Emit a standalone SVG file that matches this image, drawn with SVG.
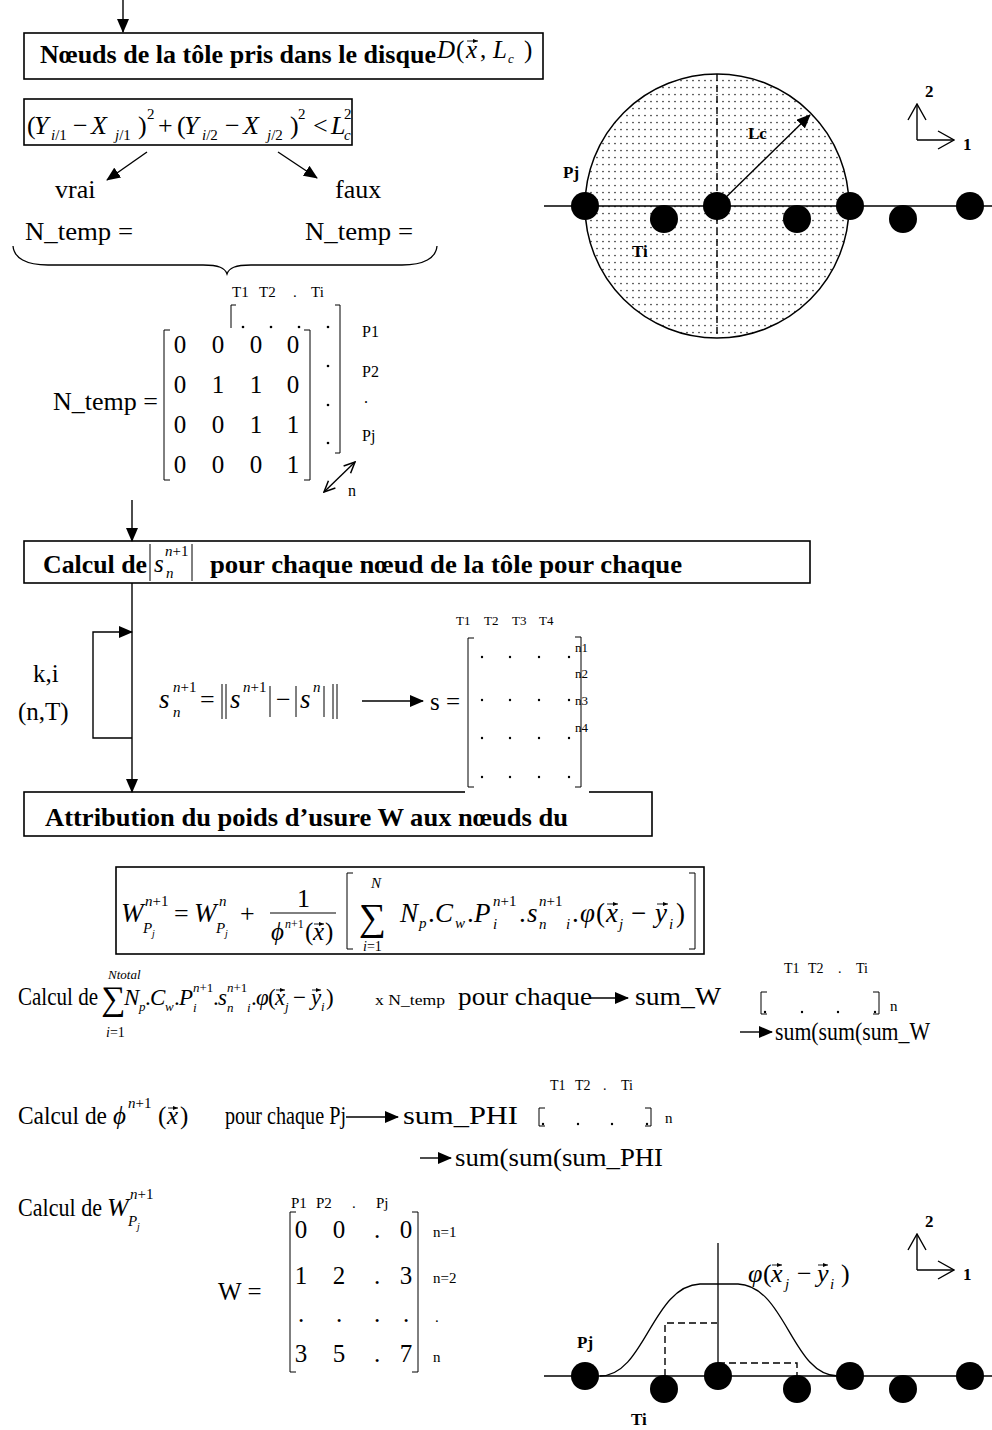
<svg xmlns="http://www.w3.org/2000/svg" width="992" height="1430" viewBox="0 0 992 1430" font-size="24">
<style>
text{font-family:"Liberation Serif","Times New Roman",serif;fill:#000}
.b{font-weight:bold}
.i{font-style:italic}
.s15{font-size:15px}
.s13{font-size:13px}
.s12{font-size:12px}
.ln{stroke:#000;stroke-width:1.3;fill:none}
.thin{stroke:#000;stroke-width:1;fill:none}
.dash{stroke:#000;stroke-width:1.4;fill:none;stroke-dasharray:7 4}
.box{fill:#fff;stroke:#000;stroke-width:1.6}
.arr{stroke:#000;stroke-width:1.4;fill:none;marker-end:url(#ah)}
.vec{stroke:#000;stroke-width:0.9;fill:none;marker-end:url(#vh)}
.ax{stroke:#000;stroke-width:1.4;fill:none;marker-end:url(#av)}
</style>
<defs>
<marker id="ah" viewBox="0 0 14 12" refX="13" refY="6" markerWidth="14" markerHeight="12" orient="auto" markerUnits="userSpaceOnUse"><path d="M0,0 L14,6 L0,12 z" fill="#000"/></marker>
<marker id="av" viewBox="0 0 18 20" refX="17" refY="10" markerWidth="18" markerHeight="20" orient="auto" markerUnits="userSpaceOnUse"><path d="M1,1 L17,10 L1,19" fill="none" stroke="#000" stroke-width="1.4"/></marker>
<marker id="av2" viewBox="0 0 13 12" refX="12" refY="6" markerWidth="13" markerHeight="12" orient="auto-start-reverse" markerUnits="userSpaceOnUse"><path d="M1,1 L12,6 L1,11" fill="none" stroke="#000" stroke-width="1.5"/></marker>
<marker id="vh" viewBox="0 0 5 4" refX="5" refY="2" markerWidth="5" markerHeight="4" orient="auto" markerUnits="userSpaceOnUse"><path d="M0,0 L5,2 L0,4 z" fill="#000"/></marker>
<pattern id="dots" width="6" height="7" patternUnits="userSpaceOnUse"><circle cx="3" cy="3.5" r="0.85" fill="#333"/></pattern>
<clipPath id="clip1"><rect x="24" y="33" width="519" height="36"/></clipPath>
<clipPath id="clip2"><rect x="24" y="541" width="786" height="38"/></clipPath>
<clipPath id="clip3"><rect x="24" y="792" width="628" height="41"/></clipPath>
</defs>
<rect width="992" height="1430" fill="#fff"/>

<!-- Node: box "Noeuds de la tole" -->
<g id="node-noeuds">
<rect class="box" x="24" y="33" width="519" height="46"/>
<text class="b" x="40" y="63" font-size="26" textLength="396" lengthAdjust="spacingAndGlyphs" clip-path="url(#clip1)">Nœuds de la tôle pris dans le disque</text>
<text class="i" x="437" y="58" font-size="25">D</text>
<text x="456" y="58" font-size="25">(</text>
<text class="i" x="466" y="58" font-size="25">x</text>
<path class="vec" d="M467,41 L478,41"/>
<text x="480" y="58" font-size="25">,</text>
<text class="i" x="493" y="58" font-size="25">L</text>
<text class="i s13" x="508" y="63">c</text>
<text x="524" y="58" font-size="25">)</text>
</g>

<!-- Node: inequality -->
<g id="node-condition">
<rect class="box" x="24" y="99" width="328" height="46"/>
<g font-size="26">
<text x="27" y="134">(</text>
<text class="i" x="34" y="134">Y</text>
<text class="s15" x="51" y="140"><tspan class="i">i</tspan>/1</text>
<text x="73" y="134">−</text>
<text class="i" x="91" y="134">X</text>
<text class="s15" x="115" y="140"><tspan class="i">j</tspan>/1</text>
<text x="138" y="134">)</text>
<text class="s15" x="147" y="119">2</text>
<text x="158" y="134">+</text>
<text x="177" y="134">(</text>
<text class="i" x="184" y="134">Y</text>
<text class="s15" x="202" y="140"><tspan class="i">i</tspan>/2</text>
<text x="225" y="134">−</text>
<text class="i" x="243" y="134">X</text>
<text class="s15" x="267" y="140"><tspan class="i">j</tspan>/2</text>
<text x="290" y="134">)</text>
<text class="s15" x="298" y="119">2</text>
<text x="313" y="134">&lt;</text>
<text class="i" x="331" y="134">L</text>
<text class="i s15" x="344" y="140">c</text>
<text class="s15" x="344" y="119">2</text>
</g>
</g>

<!-- Nodes: vrai / faux -->
<g id="node-vrai">
<text x="55" y="198" font-size="26">vrai</text>
<text x="25" y="240" font-size="26" textLength="108" lengthAdjust="spacingAndGlyphs">N_temp =</text>
</g>
<g id="node-faux">
<text x="335" y="198" font-size="26">faux</text>
<text x="305" y="240" font-size="26" textLength="108" lengthAdjust="spacingAndGlyphs">N_temp =</text>
</g>
<g id="node-brace">
<path class="ln" d="M13,246 C14,258 26,265 48,265 L203,265 C219,265 225,268 227,274 C229,268 235,265 251,265 L402,265 C424,265 436,258 437,246"/>
</g>

<!-- Node: N_temp matrix -->
<g id="node-ntemp-matrix">
<g font-size="15">
<text x="232" y="297">T1</text><text x="259" y="297">T2</text><text x="293" y="297">.</text><text x="311" y="297">Ti</text>
</g>
<path class="thin" d="M236,305 L231,305 L231,328"/>
<path class="thin" d="M335,305 L340,305 L340,453 L335,453"/>
<circle cx="243" cy="327" r="1.3"/><circle cx="271" cy="327" r="1.3"/><circle cx="299" cy="327" r="1.3"/>
<circle cx="328" cy="327" r="1.3"/><circle cx="328" cy="366" r="1.3"/><circle cx="328" cy="405" r="1.3"/><circle cx="328" cy="443" r="1.3"/>
<rect x="163" y="329" width="148" height="152" fill="#fff"/>
<path class="thin" d="M170,330 L164,330 L164,480 L170,480"/>
<path class="thin" d="M304,330 L310,330 L310,480 L304,480"/>
<g font-size="25" text-anchor="middle">
<text x="180" y="353">0</text><text x="218" y="353">0</text><text x="256" y="353">0</text><text x="293" y="353">0</text>
<text x="180" y="393">0</text><text x="218" y="393">1</text><text x="256" y="393">1</text><text x="293" y="393">0</text>
<text x="180" y="433">0</text><text x="218" y="433">0</text><text x="256" y="433">1</text><text x="293" y="433">1</text>
<text x="180" y="473">0</text><text x="218" y="473">0</text><text x="256" y="473">0</text><text x="293" y="473">1</text>
</g>
<text x="53" y="410" font-size="26" textLength="105" lengthAdjust="spacingAndGlyphs">N_temp =</text>
<g font-size="16">
<text x="362" y="337">P1</text>
<text x="362" y="377">P2</text>
<text x="364" y="403">.</text>
<text x="362" y="441">Pj</text>
<text x="348" y="496">n</text>
</g>
<path d="M324,492 L355,462" stroke="#000" stroke-width="1.4" fill="none" marker-start="url(#av2)" marker-end="url(#av2)"/>
</g>

<!-- Node: disc diagram -->
<g id="node-disc">
<circle cx="717" cy="206" r="132" fill="url(#dots)" stroke="#000" stroke-width="1.5"/>
<line class="dash" x1="717" y1="74" x2="717" y2="338"/>
<line class="ln" x1="544" y1="206" x2="992" y2="206"/>
<circle cx="585" cy="206" r="14"/><circle cx="717" cy="206" r="14"/><circle cx="850" cy="206" r="14"/><circle cx="970" cy="206" r="14"/>
<circle cx="664" cy="219" r="14"/><circle cx="797" cy="219" r="14"/><circle cx="903" cy="219" r="14"/>
<line class="arr" x1="717" y1="206" x2="810" y2="115" stroke-width="2"/>
<text class="b" x="748" y="139" font-size="17">Lc</text>
<text class="b" x="563" y="178" font-size="17">Pj</text>
<text class="b" x="632" y="257" font-size="17">Ti</text>
<line class="ax" x1="917" y1="140" x2="917" y2="104"/>
<line class="ax" x1="917" y1="140" x2="954" y2="140"/>
<text class="b" x="925" y="97" font-size="17">2</text>
<text class="b" x="963" y="150" font-size="17">1</text>
</g>

<!-- Node: Calcul de s box -->
<g id="node-calcul-s">
<rect class="box" x="24" y="541" width="786" height="42"/>
<g clip-path="url(#clip2)">
<text class="b" x="43" y="573" font-size="26" textLength="104" lengthAdjust="spacingAndGlyphs">Calcul de</text>
<text class="b" x="210" y="573" font-size="26" textLength="472" lengthAdjust="spacingAndGlyphs">pour chaque nœud de la tôle pour chaque</text>
</g>
<line class="thin" x1="150" y1="544" x2="150" y2="581"/>
<text class="i" x="154" y="572" font-size="25">s</text>
<text class="i s15" x="165" y="556">n<tspan font-style="normal">+1</tspan></text>
<text class="i s15" x="166" y="578">n</text>
<line class="thin" x1="192" y1="544" x2="192" y2="581"/>
</g>

<!-- Node: loop labels and s formula -->
<g id="node-loop-label">
<text x="33" y="682" font-size="25">k,i</text>
<text x="18" y="720" font-size="25">(n,T)</text>
</g>
<g id="node-s-formula">
<text class="i" x="159" y="708" font-size="27">s</text>
<text class="i s15" x="173" y="692">n<tspan font-style="normal">+1</tspan></text>
<text class="i s15" x="173" y="717">n</text>
<text x="200" y="708" font-size="26">=</text>
<line class="thin" x1="222" y1="684" x2="222" y2="719"/>
<line class="thin" x1="226" y1="684" x2="226" y2="719"/>
<text class="i" x="230" y="708" font-size="27">s</text>
<text class="i s15" x="243" y="692">n<tspan font-style="normal">+1</tspan></text>
<line class="thin" x1="270" y1="686" x2="270" y2="717"/>
<text x="276" y="708" font-size="26">−</text>
<line class="thin" x1="296" y1="686" x2="296" y2="717"/>
<text class="i" x="300" y="708" font-size="27">s</text>
<text class="i s15" x="313" y="692">n</text>
<line class="thin" x1="324" y1="686" x2="324" y2="717"/>
<line class="thin" x1="333" y1="684" x2="333" y2="719"/>
<line class="thin" x1="337" y1="684" x2="337" y2="719"/>
<text x="430" y="710" font-size="25">s =</text>
</g>

<!-- Node: Attribution box -->
<g id="node-attribution">
<rect class="box" x="24" y="792" width="628" height="44"/>
<text class="b" x="45" y="826" font-size="26" textLength="523" lengthAdjust="spacingAndGlyphs" clip-path="url(#clip3)">Attribution du poids d’usure W aux nœuds du</text>
</g>

<!-- Node: s matrix (drawn over the box border) -->
<g id="node-s-matrix">
<rect x="465" y="632" width="124" height="163" fill="#fff"/>
<g font-size="13">
<text x="456" y="625">T1</text><text x="484" y="625">T2</text><text x="512" y="625">T3</text><text x="539" y="625">T4</text>
</g>
<path class="thin" d="M474,638 L468,638 L468,787 L474,787"/>
<path class="thin" d="M575,637 L581,637 L581,787 L575,787"/>
<g>
<circle cx="482" cy="657" r="1.2"/><circle cx="510" cy="657" r="1.2"/><circle cx="539" cy="657" r="1.2"/><circle cx="569" cy="657" r="1.2"/>
<circle cx="482" cy="700" r="1.2"/><circle cx="510" cy="700" r="1.2"/><circle cx="539" cy="700" r="1.2"/><circle cx="569" cy="700" r="1.2"/>
<circle cx="482" cy="738" r="1.2"/><circle cx="510" cy="738" r="1.2"/><circle cx="539" cy="738" r="1.2"/><circle cx="569" cy="738" r="1.2"/>
<circle cx="482" cy="777" r="1.2"/><circle cx="510" cy="777" r="1.2"/><circle cx="539" cy="777" r="1.2"/><circle cx="569" cy="777" r="1.2"/>
</g>
<g font-size="13">
<text x="575" y="652">n1</text><text x="575" y="678">n2</text><text x="575" y="705">n3</text><text x="575" y="732">n4</text>
</g>
</g>

<!-- Node: W update formula -->
<g id="node-w-formula">
<rect class="box" x="116" y="867" width="588" height="87"/>
<text class="i" x="121" y="922" font-size="27">W</text>
<text class="i s15" x="145" y="906">n<tspan font-style="normal">+1</tspan></text>
<text class="i s15" x="143" y="933">P</text><text class="i" x="152" y="937" font-size="10">j</text>
<text x="174" y="922" font-size="26">=</text>
<text class="i" x="194" y="922" font-size="27">W</text>
<text class="i s15" x="219" y="906">n</text>
<text class="i s15" x="216" y="933">P</text><text class="i" x="225" y="937" font-size="10">j</text>
<text x="240" y="922" font-size="26">+</text>
<text x="297" y="907" font-size="26">1</text>
<line class="thin" x1="270" y1="913" x2="336" y2="913"/>
<text class="i" x="271" y="940" font-size="25">ϕ</text>
<text class="i s12" x="285" y="928">n<tspan font-style="normal">+1</tspan></text>
<text x="305" y="940" font-size="25">(</text>
<text class="i" x="313" y="940" font-size="25">x</text>
<path class="vec" d="M314,924 L324,924"/>
<text x="325" y="940" font-size="25">)</text>
<path class="thin" d="M353,873 L347,873 L347,949 L353,949"/>
<text x="359" y="930" font-size="38">∑</text>
<text class="i" x="371" y="888" font-size="15">N</text>
<text x="363" y="951" font-size="14"><tspan class="i">i</tspan>=1</text>
<g font-size="27">
<text class="i" x="400" y="922">N</text>
<text class="i s15" x="419" y="928">p</text>
<text x="428" y="922">.</text>
<text class="i" x="435" y="922">C</text>
<text class="i s15" x="455" y="928">w</text>
<text x="467" y="922">.</text>
<text class="i" x="474" y="922">P</text>
<text class="i s15" x="493" y="906">n<tspan font-style="normal">+1</tspan></text>
<text class="i s15" x="493" y="929">i</text>
<text x="519" y="922">.</text>
<text class="i" x="527" y="922">s</text>
<text class="i s15" x="539" y="906">n<tspan font-style="normal">+1</tspan></text>
<text class="i s15" x="539" y="929">n</text>
<text class="i s15" x="566" y="929">i</text>
<text x="572" y="922">.</text>
<text class="i" x="580" y="922">φ</text>
<text x="596" y="922">(</text>
<text class="i" x="606" y="922">x</text>
<path class="vec" d="M607,904 L618,904"/>
<text class="i s15" x="619" y="929">j</text>
<text x="631" y="922">−</text>
<text class="i" x="655" y="922">y</text>
<path class="vec" d="M657,904 L668,904"/>
<text class="i s15" x="669" y="929">i</text>
<text x="676" y="922">)</text>
</g>
<path class="thin" d="M689,873 L695,873 L695,949 L689,949"/>
</g>

<!-- Node: Calcul de sum line -->
<g id="node-calcul-sum">
<text x="18" y="1005" textLength="80" lengthAdjust="spacingAndGlyphs" font-size="25">Calcul de</text>
<text x="101" y="1010" font-size="34">∑</text>
<text class="i" x="108" y="979" font-size="13">Ntotal</text>
<text x="106" y="1037" font-size="14"><tspan class="i">i</tspan>=1</text>
<g font-size="23">
<text class="i" x="124" y="1005">N</text>
<text class="i s13" x="139" y="1011">p</text>
<text x="145" y="1005">.</text>
<text class="i" x="150" y="1005">C</text>
<text class="i s13" x="165" y="1011">w</text>
<text x="174" y="1005">.</text>
<text class="i" x="179" y="1005">P</text>
<text class="i s13" x="193" y="992">n<tspan font-style="normal">+1</tspan></text>
<text class="i s13" x="193" y="1012">i</text>
<text x="213" y="1005">.</text>
<text class="i" x="218" y="1005">s</text>
<text class="i s13" x="227" y="992">n<tspan font-style="normal">+1</tspan></text>
<text class="i s13" x="227" y="1012">n</text>
<text class="i s13" x="247" y="1012">i</text>
<text x="251" y="1005">.</text>
<text class="i" x="256" y="1005">φ</text>
<text x="268" y="1005">(</text>
<text class="i" x="275" y="1005">x</text>
<path class="vec" d="M276,990 L285,990"/>
<text class="i s13" x="285" y="1011">j</text>
<text x="293" y="1005">−</text>
<text class="i" x="311" y="1005">y</text>
<path class="vec" d="M312,990 L321,990"/>
<text class="i s13" x="321" y="1011">i</text>
<text x="326" y="1005">)</text>
</g>
<text x="375" y="1005" font-size="14" textLength="70" lengthAdjust="spacingAndGlyphs">x N_temp</text>
<text x="458" y="1005" font-size="26" textLength="134" lengthAdjust="spacingAndGlyphs">pour chaque</text>
<text x="635" y="1005" font-size="26" textLength="86" lengthAdjust="spacingAndGlyphs">sum_W</text>
<g font-size="14"><text x="784" y="973">T1</text><text x="808" y="973">T2</text><text x="838" y="973">.</text><text x="856" y="973">Ti</text></g>
<path class="thin" d="M767,992 L761,992 L761,1014 L767,1014"/>
<path class="thin" d="M873,992 L879,992 L879,1014 L873,1014"/>
<circle cx="765" cy="1012" r="1.2"/><circle cx="802" cy="1012" r="1.2"/><circle cx="838" cy="1012" r="1.2"/><circle cx="875" cy="1012" r="1.2"/>
<text x="890" y="1011" font-size="15">n</text>
<text x="775" y="1040" font-size="25" textLength="155" lengthAdjust="spacingAndGlyphs">sum(sum(sum_W</text>
</g>

<!-- Node: Calcul de phi line -->
<g id="node-calcul-phi">
<text x="18" y="1124" font-size="25" textLength="89" lengthAdjust="spacingAndGlyphs">Calcul de</text>
<text class="i" x="113" y="1124" font-size="25">ϕ</text>
<text class="i s15" x="128" y="1108">n<tspan font-style="normal">+1</tspan></text>
<text x="158" y="1124" font-size="25">(</text>
<text class="i" x="167" y="1124" font-size="25">x</text>
<path class="vec" d="M168,1108 L178,1108"/>
<text x="180" y="1124" font-size="25">)</text>
<text x="225" y="1124" font-size="25" textLength="121" lengthAdjust="spacingAndGlyphs">pour chaque Pj</text>
<text x="403" y="1124" font-size="26" textLength="115" lengthAdjust="spacingAndGlyphs">sum_PHI</text>
<g font-size="14"><text x="550" y="1090">T1</text><text x="575" y="1090">T2</text><text x="603" y="1090">.</text><text x="621" y="1090">Ti</text></g>
<path class="thin" d="M545,1108 L539,1108 L539,1126 L545,1126"/>
<path class="thin" d="M645,1108 L651,1108 L651,1126 L645,1126"/>
<circle cx="543" cy="1124" r="1.2"/><circle cx="578" cy="1124" r="1.2"/><circle cx="612" cy="1124" r="1.2"/><circle cx="647" cy="1124" r="1.2"/>
<text x="665" y="1123" font-size="15">n</text>
<text x="455" y="1166" font-size="25" textLength="208" lengthAdjust="spacingAndGlyphs">sum(sum(sum_PHI</text>
</g>

<!-- Node: Calcul de W and matrix -->
<g id="node-calcul-w">
<text x="18" y="1216" font-size="25" textLength="84" lengthAdjust="spacingAndGlyphs">Calcul de</text>
<text class="i" x="107" y="1216" font-size="26">W</text>
<text class="i s15" x="130" y="1199">n<tspan font-style="normal">+1</tspan></text>
<text class="i s15" x="128" y="1226">P</text><text class="i" x="137" y="1230" font-size="10">j</text>
</g>
<g id="node-w-matrix">
<g font-size="15"><text x="291" y="1208">P1</text><text x="316" y="1208">P2</text><text x="352" y="1208">.</text><text x="376" y="1208">Pj</text></g>
<text x="218" y="1300" font-size="25">W =</text>
<path class="thin" d="M296,1212 L290,1212 L290,1372 L296,1372"/>
<path class="thin" d="M412,1212 L418,1212 L418,1372 L412,1372"/>
<g font-size="25" text-anchor="middle">
<text x="301" y="1238">0</text><text x="339" y="1238">0</text><text x="377" y="1238">.</text><text x="406" y="1238">0</text>
<text x="301" y="1284">1</text><text x="339" y="1284">2</text><text x="377" y="1284">.</text><text x="406" y="1284">3</text>
<text x="301" y="1322">.</text><text x="339" y="1322">.</text><text x="377" y="1322">.</text><text x="406" y="1322">.</text>
<text x="301" y="1362">3</text><text x="339" y="1362">5</text><text x="377" y="1362">.</text><text x="406" y="1362">7</text>
</g>
<g font-size="15"><text x="433" y="1237">n=1</text><text x="433" y="1283">n=2</text><text x="435" y="1322">.</text><text x="433" y="1362">n</text></g>
</g>

<!-- Node: weight function diagram -->
<g id="node-weight-fn">
<line class="ln" x1="544" y1="1376" x2="992" y2="1376"/>
<line class="ln" x1="718" y1="1243" x2="718" y2="1376"/>
<path class="ln" stroke-width="1.6" d="M600,1376 C645,1376 652,1286 700,1284 L738,1284 C786,1286 792,1376 838,1376"/>
<path class="dash" d="M665,1376 L665,1323 L717,1323"/>
<path class="dash" d="M718,1363 L797,1363 L797,1376"/>
<circle cx="585" cy="1376" r="14"/><circle cx="718" cy="1376" r="14"/><circle cx="850" cy="1376" r="14"/><circle cx="970" cy="1376" r="14"/>
<circle cx="664" cy="1389" r="14"/><circle cx="797" cy="1389" r="14"/><circle cx="903" cy="1389" r="14"/>
<text class="i" x="748" y="1282" font-size="26">φ</text>
<text x="763" y="1282" font-size="26">(</text>
<text class="i" x="771" y="1282" font-size="26">x</text>
<path class="vec" d="M772,1265 L782,1265"/>
<text class="i s15" x="785" y="1289">j</text>
<text x="797" y="1282" font-size="26">−</text>
<text class="i" x="817" y="1282" font-size="26">y</text>
<path class="vec" d="M818,1265 L828,1265"/>
<text class="i s15" x="830" y="1289">i</text>
<text x="841" y="1282" font-size="26">)</text>
<text class="b" x="577" y="1348" font-size="17">Pj</text>
<text class="b" x="631" y="1425" font-size="17">Ti</text>
<line class="ax" x1="917" y1="1270" x2="917" y2="1234"/>
<line class="ax" x1="917" y1="1270" x2="954" y2="1270"/>
<text class="b" x="925" y="1227" font-size="17">2</text>
<text class="b" x="963" y="1280" font-size="17">1</text>
</g>

<!-- Connectors -->
<g id="connectors">
<line class="arr" x1="123" y1="0" x2="123" y2="32"/>
<line class="arr" x1="147" y1="152" x2="107" y2="180"/>
<line class="arr" x1="278" y1="152" x2="317" y2="178"/>
<line class="arr" x1="132" y1="500" x2="132" y2="541"/>
<line class="arr" x1="132" y1="583" x2="132" y2="792"/>
<polyline class="arr" points="132,738 93,738 93,632 132,632"/>
<line class="arr" x1="362" y1="701" x2="423" y2="701"/>
<line class="arr" x1="590" y1="998" x2="628" y2="998"/>
<line class="arr" x1="740" y1="1032" x2="772" y2="1032"/>
<line class="arr" x1="346" y1="1117" x2="398" y2="1117"/>
<line class="arr" x1="420" y1="1158" x2="451" y2="1158"/>
</g>
</svg>
